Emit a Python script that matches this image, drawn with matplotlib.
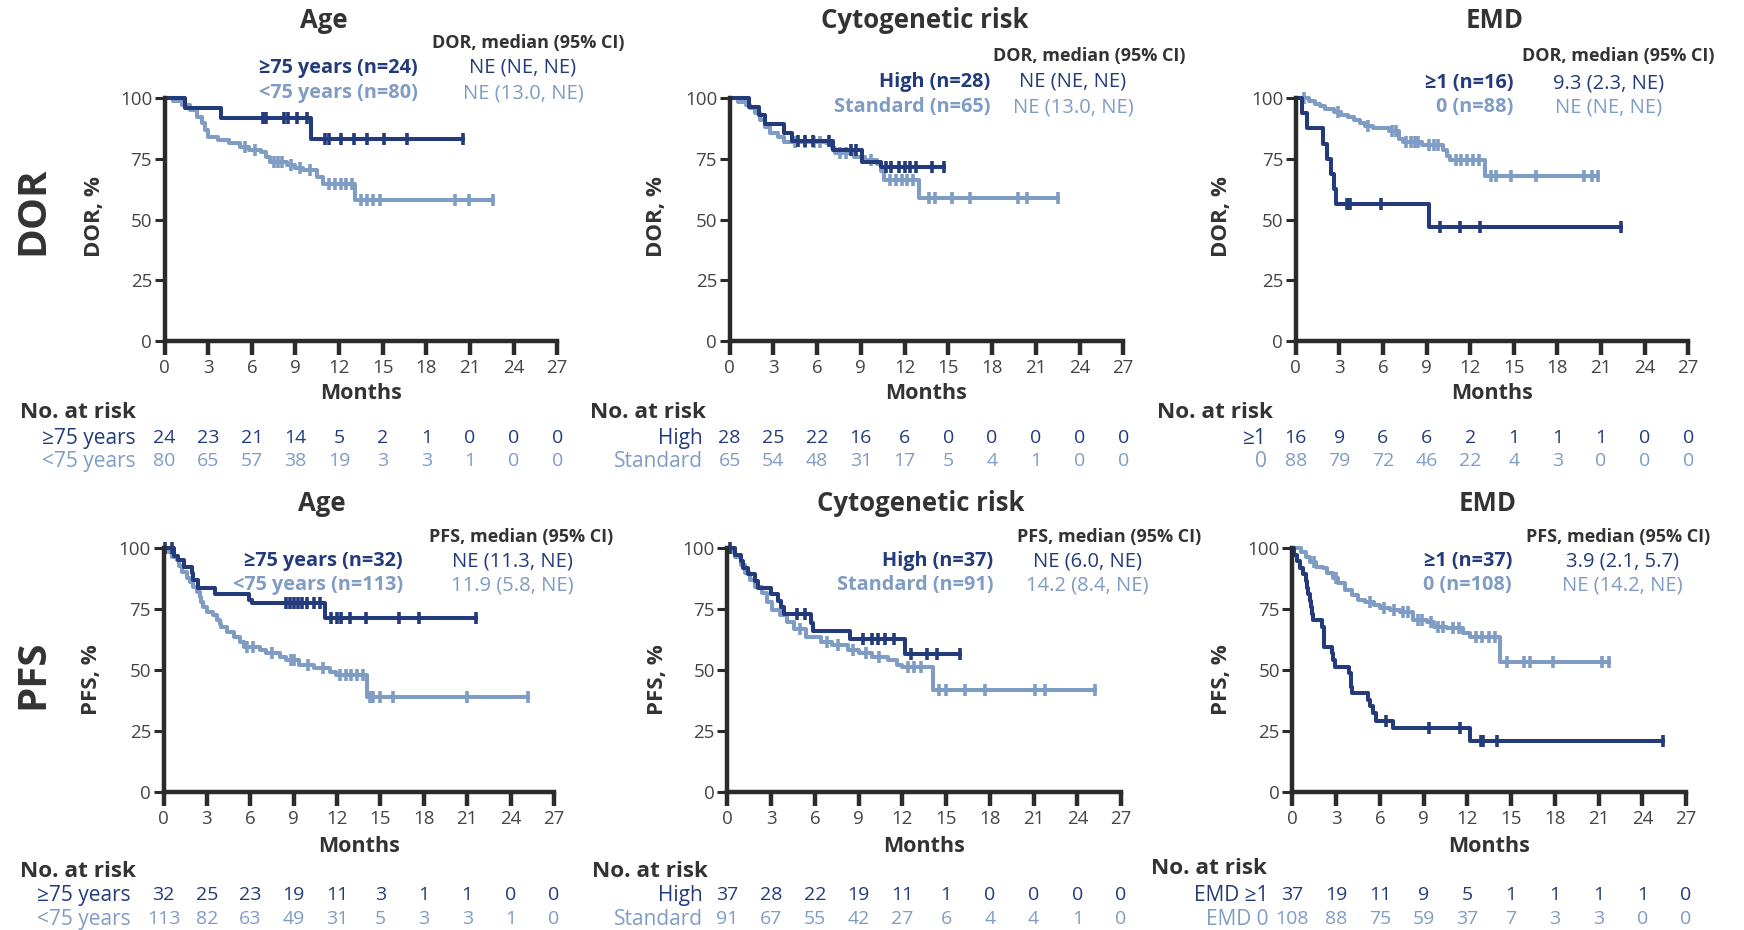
import numpy as np
import matplotlib.pyplot as plt
from matplotlib.transforms import blended_transform_factory

plt.rcParams['font.family'] = ['Open Sans', 'DejaVu Sans']

W, H = 1744, 930
DARK = '#233b7b'
LIGHT = '#7f9cc5'
TXT = '#333333'
AXC = '#2b2b2b'

months = list(range(0, 28, 3))

# ---- DOR by age ----
dor_age_hi_t = [1.4, 3.9, 10.1]
dor_age_hi_s = [95.8, 91.7, 83.3]
dor_age_hi_end = 20.5
dor_age_hi_cens = [6.8, 7.0, 8.2, 8.5, 9.1, 9.8, 11.0, 11.3, 12.1, 13.0, 13.9, 15.1, 16.7, 20.5]
dor_age_lo_t = [0.6, 1.2, 1.75, 2.2, 2.55, 2.8, 3.0, 3.7, 4.4, 5.2, 5.8, 6.6, 7.0, 7.25,
                8.4, 9.0, 9.5, 10.5, 10.9, 13.1]
dor_age_lo_s = [98.8, 97.1, 95.0, 92.3, 89.6, 86.8, 84.1, 82.7, 81.3, 80.0, 78.6, 77.9, 75.9, 73.8,
                72.4, 71.0, 70.4, 67.6, 64.6, 57.9]
dor_age_lo_end = 22.6
dor_age_lo_cens = [5.5, 6.2, 7.5, 7.8, 8.1, 8.7, 9.3, 10.0, 11.3, 11.7, 12.1, 12.5, 12.9,
                   13.5, 13.9, 14.3, 14.8, 20.0, 20.9, 22.6]

# ---- DOR by cytogenetic risk ----
dor_cyto_hi_t = [1.3, 2.0, 2.4, 3.7, 4.3, 7.1, 9.1, 10.4]
dor_cyto_hi_s = [96.4, 92.9, 89.3, 85.7, 82.1, 78.6, 73.5, 71.6]
dor_cyto_hi_end = 14.7
dor_cyto_hi_cens = [4.7, 5.2, 5.7, 6.8, 8.3, 8.7, 10.7, 11.1, 11.6, 12.0, 12.4, 12.8, 13.9, 14.7]
dor_cyto_lo_t = [0.6, 1.1, 1.4, 1.75, 2.1, 2.4, 2.8, 3.35, 3.7, 6.6, 7.0, 7.2, 8.5, 9.3,
                 10.1, 10.4, 10.6, 13.0]
dor_cyto_lo_s = [98.5, 97.0, 95.7, 93.7, 91.0, 88.2, 85.5, 84.1, 82.0, 81.3, 79.3, 77.2, 75.9, 74.5,
                 72.8, 70.0, 66.4, 58.9]
dor_cyto_lo_end = 22.5
dor_cyto_lo_cens = [4.5, 5.2, 5.8, 6.2, 7.6, 8.0, 9.7, 11.0, 11.4, 11.8, 12.2, 12.6, 13.65,
                    14.1, 15.25, 16.5, 19.8, 20.4, 22.5]

# ---- DOR by EMD ----
dor_emd_hi_t = [0.45, 0.75, 1.9, 2.15, 2.4, 2.6, 2.8, 9.15]
dor_emd_hi_s = [93.75, 87.5, 81.25, 75.0, 68.75, 62.5, 56.25, 46.9]
dor_emd_hi_end = 22.4
dor_emd_hi_cens = [3.5, 3.75, 5.9, 9.9, 11.3, 12.7, 22.4]
dor_emd_lo_t = [0.9, 1.3, 1.7, 2.0, 2.6, 3.1, 3.6, 4.0, 4.4, 4.8, 5.3, 6.4, 7.1, 7.4, 8.7,
                10.1, 10.4, 10.6, 13.0]
dor_emd_lo_s = [98.9, 97.7, 96.6, 95.5, 94.3, 93.2, 92.0, 90.9, 89.8, 88.6, 87.5, 86.3, 83.0, 81.9,
                80.7, 78.5, 76.2, 74.5, 67.7]
dor_emd_lo_end = 20.8
dor_emd_lo_cens = [0.6, 2.9, 5.0, 6.6, 6.9, 7.6, 7.9, 8.2, 8.4, 9.2, 9.5, 9.8, 11.0, 11.4, 11.8,
                   12.2, 12.6, 13.4, 13.8, 14.8, 16.5, 19.8, 20.4, 20.8]

# ---- PFS by age ----
pfs_age_hi_t = [0.7, 1.0, 1.4, 1.95, 2.06, 2.4, 3.55, 5.9, 6.1, 11.2]
pfs_age_hi_s = [96.9, 95.0, 92.3, 89.6, 86.9, 83.6, 81.3, 78.7, 77.3, 71.3]
pfs_age_hi_end = 21.6
pfs_age_hi_cens = [0.1, 0.6, 8.5, 8.75, 9.0, 9.3, 9.6, 9.9, 10.4, 10.8, 11.6, 12.0, 12.3, 12.9,
                   14.0, 16.3, 17.7, 21.6]
pfs_age_lo_t = [0.3, 0.6, 0.9, 1.1, 1.3, 1.6, 1.8, 2.06, 2.3, 2.5, 2.6, 2.75, 3.0, 3.4, 3.7,
                3.9, 4.0, 4.4, 4.9, 5.3, 5.6, 6.7, 7.1, 8.05, 8.5, 9.4, 10.4, 11.5, 11.9, 14.05]
pfs_age_lo_s = [98.2, 96.5, 95.1, 92.5, 90.3, 87.5, 86.0, 84.2, 82.0, 80.0, 78.0, 76.0, 73.9, 72.5,
                70.5, 69.0, 67.8, 65.7, 63.7, 61.6, 59.6, 58.2, 56.8, 55.5, 54.1, 52.0, 50.7, 49.3,
                48.0, 39.1]
pfs_age_lo_end = 25.2
pfs_age_lo_cens = [5.8, 6.2, 7.5, 8.8, 9.0, 10.0, 11.0, 12.2, 12.6, 13.0, 13.4, 13.8, 14.3, 14.5,
                   15.0, 15.9, 21.0, 25.2]

# ---- PFS by cytogenetic risk ----
pfs_cyto_hi_t = [0.5, 0.9, 1.1, 1.4, 1.9, 2.1, 3.0, 3.5, 3.7, 3.9, 5.7, 5.9, 8.4, 12.2]
pfs_cyto_hi_s = [97.3, 94.6, 91.9, 89.2, 86.5, 83.8, 81.1, 78.4, 75.7, 73.0, 69.3, 65.9, 62.9, 56.6]
pfs_cyto_hi_end = 15.95
pfs_cyto_hi_cens = [0.2, 4.8, 5.3, 9.3, 9.9, 10.3, 10.8, 11.4, 12.6, 13.7, 14.4, 15.95]
pfs_cyto_lo_t = [0.3, 0.5, 0.9, 1.2, 1.55, 1.9, 2.35, 2.7, 3.05, 3.6, 4.1, 4.6, 5.4, 6.4, 7.2,
                 8.3, 9.0, 9.9, 11.0, 11.6, 11.95, 14.1]
pfs_cyto_lo_s = [98.5, 96.4, 93.0, 89.6, 86.9, 84.2, 81.4, 78.0, 74.6, 72.5, 69.8, 67.0, 63.7, 61.6,
                 60.2, 58.2, 56.8, 55.5, 54.1, 52.0, 51.4, 41.8]
pfs_cyto_lo_end = 25.2
pfs_cyto_lo_cens = [5.0, 6.8, 7.6, 8.6, 9.5, 10.4, 12.4, 12.8, 13.3, 14.5, 15.0, 16.3, 17.7,
                    21.1, 21.8, 25.2]

# ---- PFS by EMD ----
pfs_emd_hi_t = [0.1, 0.3, 0.5, 0.75, 0.9, 1.0, 1.1, 1.2, 1.3, 1.35, 1.4, 2.05, 2.15, 2.2, 2.7,
                2.8, 2.9, 3.9, 4.0, 4.05, 4.1, 5.2, 5.3, 5.5, 5.7, 6.9, 12.2]
pfs_emd_hi_s = [97.3, 94.6, 91.9, 89.2, 86.5, 83.8, 81.1, 78.4, 75.7, 73.0, 70.3, 67.6, 64.9, 59.5,
                56.8, 54.1, 51.4, 48.6, 45.9, 43.2, 40.5, 37.8, 35.1, 32.4, 29.0, 26.1, 20.9]
pfs_emd_hi_end = 25.4
pfs_emd_hi_cens = [6.4, 9.4, 11.5, 12.95, 13.1, 14.0, 25.4]
pfs_emd_lo_t = [0.6, 0.9, 1.2, 1.65, 2.1, 2.35, 2.8, 3.15, 3.6, 4.1, 4.5, 5.0, 5.6, 6.0, 6.7,
                7.4, 8.3, 9.2, 9.7, 10.6, 11.7, 12.2, 14.25]
pfs_emd_lo_s = [98.5, 96.4, 94.4, 92.3, 91.7, 89.6, 87.6, 85.5, 82.8, 80.7, 78.7, 78.0, 76.6, 75.3,
                74.6, 73.9, 70.5, 69.8, 67.8, 67.1, 65.0, 63.7, 53.4]
pfs_emd_lo_end = 21.7
pfs_emd_lo_cens = [1.5, 3.0, 5.3, 6.3, 7.0, 7.6, 7.9, 8.6, 8.9, 9.5, 10.0, 10.3, 11.0, 11.4, 12.6,
                   13.0, 13.5, 13.9, 14.7, 15.9, 16.3, 17.9, 21.2, 21.7]

# ---- numbers at risk ----
risk_dor_age = [[24, 23, 21, 14, 5, 2, 1, 0, 0, 0], [80, 65, 57, 38, 19, 3, 3, 1, 0, 0]]
risk_dor_cyto = [[28, 25, 22, 16, 6, 0, 0, 0, 0, 0], [65, 54, 48, 31, 17, 5, 4, 1, 0, 0]]
risk_dor_emd = [[16, 9, 6, 6, 2, 1, 1, 1, 0, 0], [88, 79, 72, 46, 22, 4, 3, 0, 0, 0]]
risk_pfs_age = [[32, 25, 23, 19, 11, 3, 1, 1, 0, 0], [113, 82, 63, 49, 31, 5, 3, 3, 1, 0]]
risk_pfs_cyto = [[37, 28, 22, 19, 11, 1, 0, 0, 0, 0], [91, 67, 55, 42, 27, 6, 4, 4, 1, 0]]
risk_pfs_emd = [[37, 19, 11, 9, 5, 1, 1, 1, 1, 0], [108, 88, 75, 59, 37, 7, 3, 3, 0, 0]]

titles = ['Age', 'Cytogenetic risk', 'EMD', 'Age', 'Cytogenetic risk', 'EMD']
headers = ['DOR, median (95% CI)'] * 3 + ['PFS, median (95% CI)'] * 3
legend_labels = [('≥75 years (n=24)', '<75 years (n=80)'), ('High (n=28)', 'Standard (n=65)'),
                 ('≥1 (n=16)', '0 (n=88)'), ('≥75 years (n=32)', '<75 years (n=113)'),
                 ('High (n=37)', 'Standard (n=91)'), ('≥1 (n=37)', '0 (n=108)')]
legend_values = [('NE (NE, NE)', 'NE (13.0, NE)'), ('NE (NE, NE)', 'NE (13.0, NE)'),
                 ('9.3 (2.3, NE)', 'NE (NE, NE)'), ('NE (11.3, NE)', '11.9 (5.8, NE)'),
                 ('NE (6.0, NE)', '14.2 (8.4, NE)'), ('3.9 (2.1, 5.7)', 'NE (14.2, NE)')]
risk_labels = [('≥75 years', '<75 years'), ('High', 'Standard'), ('≥1', '0'),
               ('≥75 years', '<75 years'), ('High', 'Standard'), ('EMD ≥1', 'EMD 0')]
ylabels = ['DOR, %'] * 3 + ['PFS, %'] * 3

curves = [
    ((dor_age_hi_t, dor_age_hi_s, dor_age_hi_end, dor_age_hi_cens),
     (dor_age_lo_t, dor_age_lo_s, dor_age_lo_end, dor_age_lo_cens), risk_dor_age),
    ((dor_cyto_hi_t, dor_cyto_hi_s, dor_cyto_hi_end, dor_cyto_hi_cens),
     (dor_cyto_lo_t, dor_cyto_lo_s, dor_cyto_lo_end, dor_cyto_lo_cens), risk_dor_cyto),
    ((dor_emd_hi_t, dor_emd_hi_s, dor_emd_hi_end, dor_emd_hi_cens),
     (dor_emd_lo_t, dor_emd_lo_s, dor_emd_lo_end, dor_emd_lo_cens), risk_dor_emd),
    ((pfs_age_hi_t, pfs_age_hi_s, pfs_age_hi_end, pfs_age_hi_cens),
     (pfs_age_lo_t, pfs_age_lo_s, pfs_age_lo_end, pfs_age_lo_cens), risk_pfs_age),
    ((pfs_cyto_hi_t, pfs_cyto_hi_s, pfs_cyto_hi_end, pfs_cyto_hi_cens),
     (pfs_cyto_lo_t, pfs_cyto_lo_s, pfs_cyto_lo_end, pfs_cyto_lo_cens), risk_pfs_cyto),
    ((pfs_emd_hi_t, pfs_emd_hi_s, pfs_emd_hi_end, pfs_emd_hi_cens),
     (pfs_emd_lo_t, pfs_emd_lo_s, pfs_emd_lo_end, pfs_emd_lo_cens), risk_pfs_emd),
]

# layout, in pixels of the 1744x930 canvas (y from top)
geo = [(164.6, 557.2, 98, 341), (729.6, 1123.3, 98, 341), (1295.7, 1688.3, 98, 341),
       (163.5, 553.9, 548, 792), (727.4, 1121.1, 548, 792), (1292.4, 1686.1, 548, 792)]
title_xy = [(324, 21), (925, 21), (1495, 21), (322, 503), (921, 503), (1488, 503)]
header_xy = [(624, 43), (1185, 56), (1714, 56), (613, 537), (1201, 537), (1710, 537)]
leg_rows = [(68, 93), (82, 107), (83, 107), (561, 585), (561, 585), (561, 585)]
leg_lab_x = [418, 990, 1513, 403, 993, 1512]
leg_val_x = [523, 1073, 1609, 512, 1087, 1622]
ylab_x = [94.5, 656, 1221, 91, 657, 1221]
nar_xy = [(20, 412), (590, 412), (1157, 412), (20, 871), (592, 871), (1151, 868)]
risk_lab_x = [136, 703, 1267, 131, 703, 1268]

fig = plt.figure(figsize=(W / 100, H / 100), dpi=100)


def fx(x):
    return x / W


def fy(y):
    return 1 - y / H


def km(ax, t, s, end, cens, color):
    x = np.r_[0, t, end]
    y = np.r_[100, s, s[-1]]
    ax.step(x, y, where='post', color=color, lw=2.9, clip_on=False)
    idx = np.searchsorted(x, cens, side='right') - 1
    ax.plot(cens, y[idx], ls='none', marker='|', ms=9, mew=2.6, color=color, clip_on=False)


for i in range(6):
    x0, x1, ytop, ybot = geo[i]
    ax = fig.add_axes([fx(x0), fy(ybot), (x1 - x0) / W, (ybot - ytop) / H])
    hi, lo, risk = curves[i]
    km(ax, *lo, LIGHT)
    km(ax, *hi, DARK)

    ax.set_xlim(0, 27)
    ax.set_ylim(0, 100)
    ax.set_xticks(months)
    ax.set_yticks([0, 25, 50, 75, 100])
    for sp in ['top', 'right']:
        ax.spines[sp].set_visible(False)
    for sp in ['left', 'bottom']:
        ax.spines[sp].set_linewidth(3.2)
        ax.spines[sp].set_color(AXC)
    ax.tick_params(axis='x', length=10, width=3.2, color=AXC, labelsize=13.5, labelcolor='#444444', pad=3)
    ax.tick_params(axis='y', length=7, width=2.2, color=AXC, labelsize=13.5, labelcolor='#444444', pad=2)

    upper = i < 3
    fig.text(fx(title_xy[i][0]), fy(title_xy[i][1]), titles[i], ha='center', va='center',
             fontsize=18.5, fontweight='bold', color=TXT)
    fig.text(fx(header_xy[i][0]), fy(header_xy[i][1]), headers[i], ha='right', va='center',
             fontsize=13, fontweight='bold', color=TXT)
    for r, col in enumerate([DARK, LIGHT]):
        fig.text(fx(leg_lab_x[i]), fy(leg_rows[i][r]), legend_labels[i][r], ha='right', va='center',
                 fontsize=14.3, fontweight='bold', color=col)
        fig.text(fx(leg_val_x[i]), fy(leg_rows[i][r]), legend_values[i][r], ha='center', va='center',
                 fontsize=14.5, color=col)

    fig.text(fx(ylab_x[i]), fy(217 if upper else 680), ylabels[i], rotation=90, ha='center',
             va='center', fontsize=16, fontweight='bold', color=TXT)
    fig.text(fx((x0 + x1) / 2), fy(393 if upper else 846), 'Months', ha='center', va='center',
             fontsize=15.5, fontweight='bold', color=TXT)

    fig.text(fx(nar_xy[i][0]), fy(nar_xy[i][1]), 'No. at risk', ha='left', va='center',
             fontsize=16.2, fontweight='bold', color=TXT)
    tr = blended_transform_factory(ax.transData, fig.transFigure)
    rows_y = (438, 461) if upper else (895, 919)
    for r, col in enumerate([DARK, LIGHT]):
        fig.text(fx(risk_lab_x[i]), fy(rows_y[r]), risk_labels[i][r], ha='right', va='center',
                 fontsize=15, color=col)
        for m, n in zip(months, risk[r]):
            ax.text(m, fy(rows_y[r]), str(n), transform=tr, ha='center', va='center',
                    fontsize=14, color=col)

fig.text(fx(33), fy(211), 'DOR', rotation=90, ha='center', va='center', fontsize=29,
         fontweight='bold', color=TXT)
fig.text(fx(33), fy(674), 'PFS', rotation=90, ha='center', va='center', fontsize=29,
         fontweight='bold', color=TXT)

fig.savefig('out.png', dpi=100, facecolor='white')
